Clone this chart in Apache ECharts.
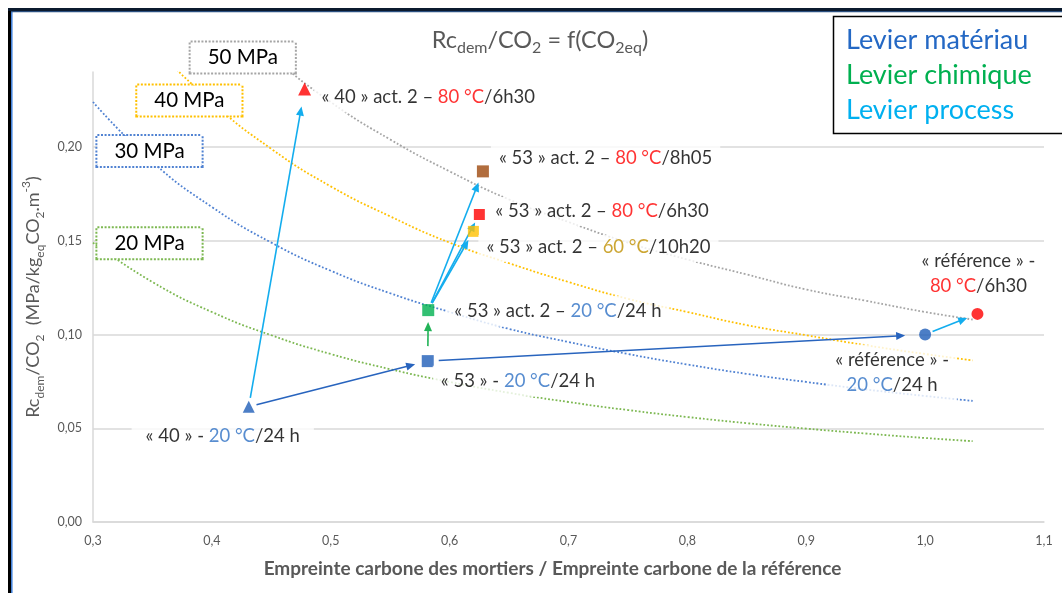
<!DOCTYPE html>
<html>
<head>
<meta charset="utf-8">
<script src="https://cdn.jsdelivr.net/npm/echarts@6/dist/echarts.min.js"></script>
<style>
  html, body { margin: 0; padding: 0; background: #ffffff; }
  #chart { width: 1062px; height: 593px; }
</style>
</head>
<body>
<div id="chart"></div>
<script>
// ---- Iso-strength curves (Rc/CO2 for a given compressive strength) ----
const curveX = [0.30, 0.35, 0.40, 0.45, 0.50, 0.55, 0.60, 0.65, 0.70, 0.75, 0.80, 0.85, 0.90, 0.95, 1.00, 1.04];
const iso20 = [0.149, 0.128, 0.112, 0.0996, 0.0896, 0.0815, 0.0747, 0.0689, 0.0640, 0.0597, 0.0560, 0.0527, 0.0498, 0.0472, 0.0448, 0.0431];
const iso30 = [0.224, 0.192, 0.168, 0.149, 0.134, 0.122, 0.112, 0.103, 0.0960, 0.0896, 0.0840, 0.0790, 0.0747, 0.0707, 0.0672, 0.0646];
const iso40 = [0.299, 0.256, 0.224, 0.199, 0.179, 0.163, 0.149, 0.138, 0.128, 0.119, 0.112, 0.105, 0.0996, 0.0943, 0.0896, 0.0862];
const iso50 = [0.373, 0.320, 0.280, 0.249, 0.224, 0.204, 0.187, 0.172, 0.160, 0.149, 0.140, 0.132, 0.124, 0.118, 0.112, 0.108];
const isoNames = ['20 MPa', '30 MPa', '40 MPa', '50 MPa'];

// ---- Mortar formulations ----
const pointLabels = [
  '« 40 » - 20 °C/24 h',
  '« 40 » act. 2 – 80 °C/6h30',
  '« 53 » - 20 °C/24 h',
  '« 53 » act. 2 – 20 °C/24 h',
  '« 53 » act. 2 – 60 °C/10h20',
  '« 53 » act. 2 – 80 °C/6h30',
  '« 53 » act. 2 – 80 °C/8h05',
  '« référence » -\n20 °C/24 h',
  '« référence » -\n80 °C/6h30'
];
const pointX = [0.431, 0.478, 0.5816, 0.582, 0.620, 0.625, 0.628, 1.000, 1.044];
const pointY = [0.0615, 0.231, 0.0858, 0.113, 0.155, 0.164, 0.187, 0.100, 0.111];

// Arrows between formulations: [from, to, lever]  (0 matériau, 1 chimique, 2 process)
const arrowLinks = [
  [0, 2, 0], [2, 7, 0],
  [2, 3, 1],
  [0, 1, 2], [3, 6, 2], [3, 5, 2], [3, 4, 2], [7, 8, 2]
];

// Axis scale
const xMin = 0.3, xMax = 1.1, xStep = 0.1;
const yMin = 0, yMax = 0.24, yStep = 0.05;

// ---- Styles ----
const FONT = 'Lato, "Open Sans", "DejaVu Sans", sans-serif';
const GREY_TXT = '#595959';
const GRID_C = '#D9D9D9';
const isoStyle = [
  { color: '#7DB852', anchor: 0, offset: [56.5, 0.5] },
  { color: '#5082D2', anchor: 0, offset: [56.5, 49] },
  { color: '#FFC000', anchor: 2, offset: [-22.5, -1.5] },
  { color: '#A5A5A5', anchor: 4, offset: [-88, -44.5] }
];
const BLUE = '#1F5EB8', RED = '#FF0000';
// label anchor: centre of the marker, box left edge shifted by offset[0]
const pointStyle = [
  { symbol: 'triangle', size: 12, color: BLUE,      align: 'center', offset: [-26, 29],  pad: [3, 14] },
  { symbol: 'triangle', size: 13, color: RED,       align: 'left',   offset: [9, 8],     pad: [3, 8] },
  { symbol: 'rect',     size: 12, color: BLUE,      align: 'left',   offset: [5, 20],    pad: [3, 8] },
  { symbol: 'rect',     size: 12, color: '#00B050', align: 'left',   offset: [18, 1],    pad: [3, 8] },
  { symbol: 'rect',     size: 11, color: '#FFC000', align: 'left',   offset: [5, 17],    pad: [0, 8, 2, 8] },
  { symbol: 'rect',     size: 11, color: RED,       align: 'left',   offset: [8, -3],    pad: [2, 8] },
  { symbol: 'rect',     size: 12, color: '#9E480E', align: 'left',   offset: [8, -13],   pad: [3, 8] },
  { symbol: 'circle',   size: 12, color: BLUE,      align: 'center', offset: [-33, 38],  pad: [3, 8] },
  { symbol: 'circle',   size: 12, color: RED,       align: 'center', offset: [1, -40],   pad: [3, 8] }
];
const leverColors = ['#2864BE', '#22B357', '#13ADEE'];
const arrowGaps = [[8, 13], [11, 20], [15, 12], [9, 18], [8, 12], [8, 9], [8, 10], [8, 11]];

const tempColors = { '20': '#2E70C4', '60': '#BF9000', '80': '#FF0000' };
const LABEL_FS = 18.5;

function richLabel(text) {
  return text.replace(/(\d+) °C/g, (m, t) => '{t' + t + '|' + m + '}')
             .split('\n').map(line => line.replace(/(^|})([^{}]+)(?={|$)/g, (m, a, b) => a + '{n|' + b + '}')).join('\n');
}
const labelRich = { n: { fontFamily: FONT, fontSize: LABEL_FS, color: '#000', lineHeight: 25 } };
Object.keys(tempColors).forEach(t => {
  labelRich['t' + t] = { fontFamily: FONT, fontSize: LABEL_FS, color: tempColors[t], lineHeight: 25 };
});

const fmt = (v, d) => v.toFixed(d).replace('.', ',');

// ---- Series ----
const isoValues = [iso20, iso30, iso40, iso50];
const isoSeries = isoValues.map((vals, s) => ({
  type: 'line',
  name: isoNames[s],
  z: 1,
  smooth: true,
  symbol: 'none',
  silent: true,
  clip: true,
  lineStyle: { color: isoStyle[s].color, width: 1.8, type: [1.8, 2] },
  data: curveX.map((x, i) => {
    if (i !== isoStyle[s].anchor) return [x, vals[i]];
    return {
      value: [x, vals[i]],
      symbol: 'circle',
      symbolSize: 1,
      itemStyle: { color: 'rgba(0,0,0,0)' },
      label: {
        show: true,
        position: 'inside',
        offset: isoStyle[s].offset,
        formatter: isoNames[s],
        fontFamily: FONT,
        fontSize: 20.5,
        color: '#000',
        backgroundColor: '#fff',
        borderColor: isoStyle[s].color,
        borderWidth: 2,
        borderType: [2, 1.6],
        padding: [5, 17, 4, 17]
      }
    };
  })
}));

const pointSeries = {
  type: 'scatter',
  z: 4,
  silent: true,
  data: pointX.map((x, i) => {
    const st = pointStyle[i];
    return {
      value: [x, pointY[i]],
      symbol: st.symbol,
      symbolSize: st.size,
      itemStyle: { color: st.color },
      label: {
        show: true,
        position: 'inside',
        offset: st.offset,
        align: st.align,
        verticalAlign: 'middle',
        formatter: richLabel(pointLabels[i]),
        rich: labelRich,
        backgroundColor: '#fff',
        padding: st.pad
      }
    };
  })
};

const arrowSeries = {
  type: 'custom',
  z: 3,
  silent: true,
  clip: false,
  encode: { x: [0, 2], y: [1, 3] },
  data: arrowLinks.map(([a, b, k]) => [pointX[a], pointY[a], pointX[b], pointY[b], k]),
  renderItem(params, api) {
    const p1 = api.coord([api.value(0), api.value(1)]);
    const p2 = api.coord([api.value(2), api.value(3)]);
    const color = leverColors[api.value(4)];
    const [g0, g1] = arrowGaps[params.dataIndex];
    const dx = p2[0] - p1[0], dy = p2[1] - p1[1];
    const len = Math.hypot(dx, dy);
    const ux = dx / len, uy = dy / len, nx = -uy, ny = ux;
    const s = [p1[0] + ux * g0, p1[1] + uy * g0];
    const e = [p2[0] - ux * g1, p2[1] - uy * g1];
    const hl = 9, hw = 4;
    const b = [e[0] - ux * hl, e[1] - uy * hl];
    return {
      type: 'group',
      children: [
        { type: 'line', shape: { x1: s[0], y1: s[1], x2: b[0] + ux * 1, y2: b[1] + uy * 1 },
          style: { stroke: color, lineWidth: 1.6 } },
        { type: 'polygon', shape: { points: [e, [b[0] + nx * hw, b[1] + ny * hw], [b[0] - nx * hw, b[1] - ny * hw]] },
          style: { fill: color } }
      ]
    };
  }
};

// ---- Text blocks ----
const subStyle = (size, col, va) => ({ fontFamily: FONT, fontSize: size, fill: col, lineHeight: Math.round(size * 1.1), verticalAlign: va });

const graphics = [
  // chart title
  {
    type: 'text', x: 540, y: 40, z: 10,
    style: {
      text: 'Rc{s|dem}/CO{s|2} = f(CO{s|2eq})',
      fontFamily: FONT, fontSize: 23.5, fill: GREY_TXT, lineHeight: 32,
      align: 'center', verticalAlign: 'middle',
      rich: { s: subStyle(16, GREY_TXT, 'bottom') }
    }
  },
  // lever box
  {
    type: 'rect', z: 10,
    shape: { x: 833.5, y: 16.5, width: 260, height: 117 },
    style: { fill: '#fff', stroke: '#000', lineWidth: 1.5 }
  },
  { type: 'text', x: 846, y: 40, z: 11, style: { text: 'Levier matériau', fontFamily: FONT, fontSize: 27, fill: '#2468C4', verticalAlign: 'middle' } },
  { type: 'text', x: 846, y: 75, z: 11, style: { text: 'Levier chimique', fontFamily: FONT, fontSize: 27, fill: '#00B050', verticalAlign: 'middle' } },
  { type: 'text', x: 846, y: 110, z: 11, style: { text: 'Levier process', fontFamily: FONT, fontSize: 27, fill: '#00B0F0', verticalAlign: 'middle' } },
  // frame
  { type: 'line', z: 12, shape: { x1: 9.5, y1: 8, x2: 9.5, y2: 593 }, style: { stroke: '#000', lineWidth: 3 } },
  { type: 'line', z: 12, shape: { x1: 8, y1: 9.5, x2: 1062, y2: 9.5 }, style: { stroke: '#0B1A2E', lineWidth: 3 } },
  { type: 'line', z: 12, shape: { x1: 11.8, y1: 11, x2: 11.8, y2: 593 }, style: { stroke: '#3C7DD9', lineWidth: 1.5 } },
  { type: 'line', z: 12, shape: { x1: 11, y1: 11.6, x2: 1062, y2: 11.6 }, style: { stroke: '#2A4F80', lineWidth: 1.2 } }
];

const chart = echarts.init(document.getElementById('chart'), null, { renderer: 'canvas' });
chart.setOption({
  animation: false,
  backgroundColor: '#ffffff',
  grid: { left: 93, right: 18, top: 72, bottom: 71, containLabel: false },
  xAxis: {
    type: 'value', min: xMin, max: xMax, interval: xStep,
    axisLine: { show: true, lineStyle: { color: GRID_C, width: 1.5 } },
    axisTick: { show: false },
    splitLine: { show: false },
    axisLabel: { color: GREY_TXT, fontFamily: FONT, fontSize: 12.5, margin: 12, formatter: v => fmt(v, 1) },
    name: 'Empreinte carbone des mortiers / Empreinte carbone de la référence',
    nameLocation: 'middle', nameGap: 37,
    nameTextStyle: { color: GREY_TXT, fontFamily: FONT, fontSize: 19, fontWeight: 'bold', padding: [0, 32, 0, 0] }
  },
  yAxis: {
    type: 'value', min: yMin, max: yMax, interval: yStep,
    axisLine: { show: true, lineStyle: { color: GRID_C, width: 1.5 } },
    axisTick: { show: false },
    splitLine: { show: true, showMaxLine: false, lineStyle: { color: GRID_C, width: 1.5 } },
    axisLabel: { color: GREY_TXT, fontFamily: FONT, fontSize: 12.5, margin: 11, showMaxLabel: false, formatter: v => fmt(v, 2) },
    name: 'Rc{s|dem}/CO{s|2}  (MPa/kg{s|eq}CO{s|2}.m{p|-3})',
    nameLocation: 'middle', nameRotate: 90, nameGap: 31,
    nameTextStyle: {
      color: GREY_TXT, fontFamily: FONT, fontSize: 18, lineHeight: 26,
      rich: {
        s: { color: GREY_TXT, fontFamily: FONT, fontSize: 12, lineHeight: 13, verticalAlign: 'bottom' },
        p: { color: GREY_TXT, fontFamily: FONT, fontSize: 12, lineHeight: 13, verticalAlign: 'top' }
      }
    }
  },
  series: [...isoSeries, arrowSeries, pointSeries],
  graphic: graphics
});
</script>
</body>
</html>
